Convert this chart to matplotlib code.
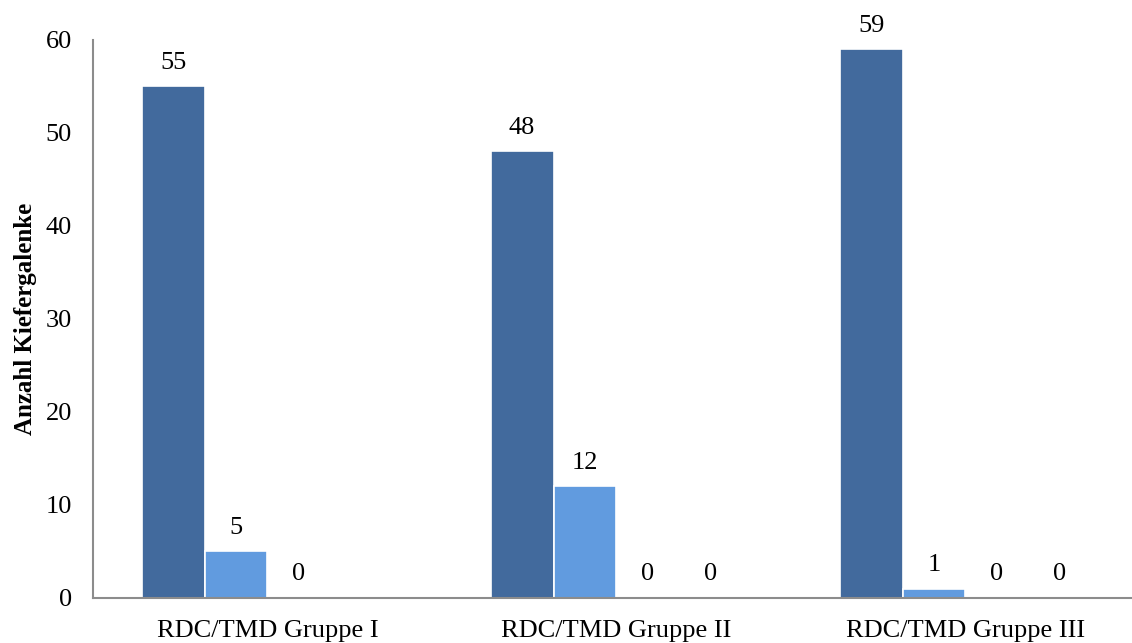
import numpy as np
import matplotlib
matplotlib.use("Agg")
import matplotlib.pyplot as plt

plt.rcParams['font.family'] = ['Liberation Serif', 'DejaVu Serif']

groups = ["RDC/TMD Gruppe I", "RDC/TMD Gruppe II", "RDC/TMD Gruppe III"]
# counts per group for the four series (nan = no value reported)
series_1 = [55, 48, 59]
series_2 = [5, 12, 1]
series_3 = [0, 0, 0]
series_4 = [np.nan, 0, 0]
colors = ["#426A9D", "#619BDF", "#A5A5A5", "#FFC000"]

fig = plt.figure(figsize=(11.32, 6.43), dpi=100)
ax = fig.add_axes([0.082, 0.07, 0.925, 0.868])

x = np.arange(len(groups))
w = 0.18
all_series = [series_1, series_2, series_3, series_4]
for i, vals in enumerate(all_series):
    pos = x + (i - 1.5) * w
    v = np.array(vals, dtype=float)
    ax.bar(pos, np.nan_to_num(v), width=w, color=colors[i],
           edgecolor="white", linewidth=1.2, zorder=2)
    for px, val in zip(pos, v):
        if np.isnan(val):
            continue
        ax.annotate(f"{int(val)}", (px, val), xytext=(0, 9),
                    textcoords="offset points", ha="center", va="bottom",
                    fontsize=19)

ax.set_xlim(-0.5, 2.5)
ax.set_ylim(0, 60)
ax.set_yticks(range(0, 61, 10))
ax.set_xticks(x)
ax.set_xticklabels(groups, fontsize=19)
ax.tick_params(axis="y", length=0, pad=15, labelsize=19)
ax.tick_params(axis="x", length=0, pad=16)
ax.set_ylabel("Anzahl Kiefergalenke", fontsize=18, fontweight="bold", labelpad=6)

for side in ["top", "right"]:
    ax.spines[side].set_visible(False)
for side in ["left", "bottom"]:
    ax.spines[side].set_color("#8C8C8C")
    ax.spines[side].set_linewidth(1.5)

fig.savefig("out.png", dpi=100)
